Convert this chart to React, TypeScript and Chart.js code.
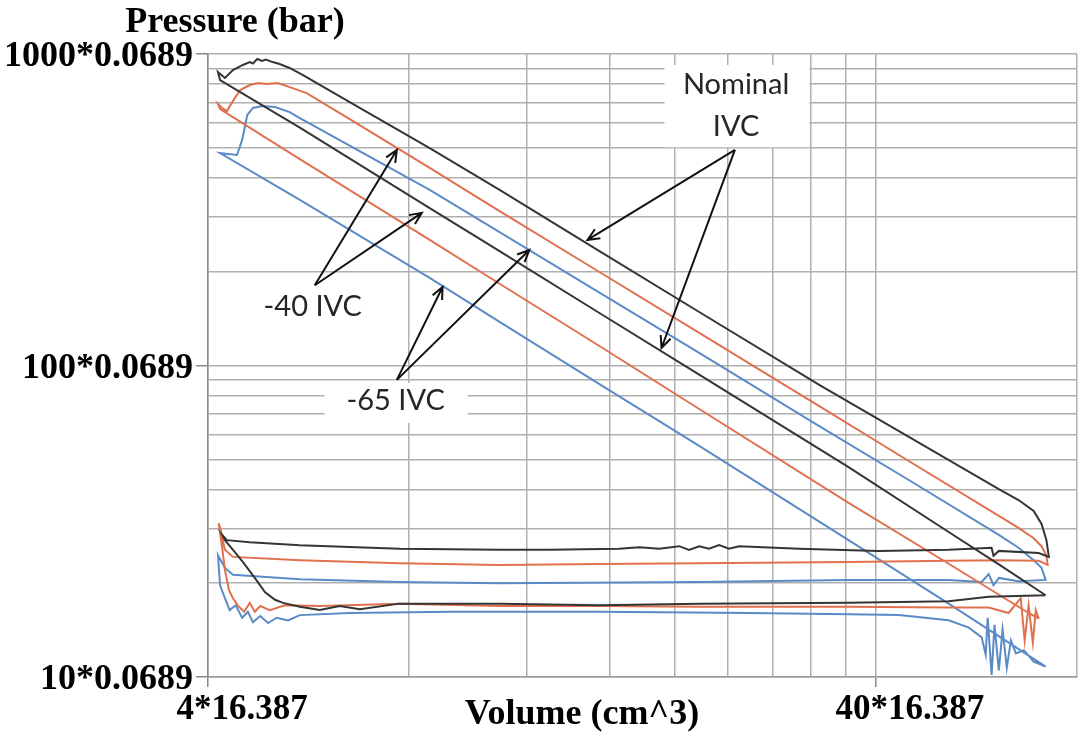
import { useEffect, useRef } from 'react';
import { Chart, registerables } from 'chart.js';

Chart.register(...registerables);

// Axis ticks (volume in in^3, pressure in psi; labels show conversion factors)
const xTickValues = [4, 8, 12, 16, 20, 24, 28, 32, 36, 40, 80];
const yTickValues = [10, 20, 30, 40, 50, 60, 70, 80, 90, 100, 200, 300, 400, 500, 600, 700, 800, 900, 1000];
const xLabelledTicks = [4, 40];
const yLabelledTicks = [10, 100, 1000];
const xFactor = '16.387';
const yFactor = '0.0689';

// Nominal IVC (black)
const nominalVolume = [71.8, 61.1, 51.4, 36.4, 21.75, 15.42, 10.93, 8.59, 5.49, 4.17,
  4.14, 4.24, 4.36, 4.51, 4.62, 4.67, 4.74, 4.82, 4.88, 5.0, 5.12, 5.3, 5.55,
  6.52, 8.59, 10.93, 15.42, 21.75, 32.9, 43.3, 61.1, 65.4, 68.9, 70.8, 72.0, 72.6,
  70.1, 61.1, 60.0, 59.6, 51.4, 40.4, 30.7, 24.96, 24.1, 23.3, 22.5, 21.75, 21.0, 20.3, 18.95, 17.7, 16.5, 12.98, 10.93, 7.74, 5.49, 4.62, 4.27, 4.2,
  4.24, 4.36, 4.51, 4.7, 4.87, 5.04, 5.18, 5.49, 5.88, 6.3, 6.75, 7.74, 10.93, 15.42, 21.75, 36.4, 51.4, 59.0, 71.8];
const nominalPressure = [18.3, 23.0, 29.2, 47.2, 93.5, 147.4, 233, 320, 580, 825,
  875, 838, 888, 922, 942, 932, 964, 950, 960, 942, 929, 902, 856,
  701, 499, 366, 233, 148.5, 86.6, 61.6, 40.1, 37.0, 34.1, 31.0, 27.5, 24.3,
  25.0, 25.4, 24.5, 26.0, 25.6, 25.4, 25.8, 26.3, 25.8, 26.5, 25.8, 26.3, 25.6, 26.3, 25.8, 26.1, 25.8, 25.6, 25.6, 25.8, 26.5, 27.1, 27.5, 28.6,
  27.5, 25.6, 23.4, 20.8, 18.7, 17.7, 17.3, 16.8, 16.4, 16.9, 16.5, 17.2, 17.2, 17.0, 17.2, 17.3, 17.5, 18.1, 18.3];

// -40 IVC (orange)
const ivc40Volume = [70.1, 67.7, 51.4, 36.4, 21.75, 15.42, 10.93, 8.59, 5.49, 4.17,
  4.14, 4.2, 4.27, 4.36, 4.47, 4.62, 4.75, 4.9, 5.09, 5.3, 5.62,
  6.52, 8.59, 10.93, 15.42, 21.75, 32.9, 43.3, 61.1, 65.4, 68.9, 70.8, 72.0, 72.3,
  70.1, 61.1, 51.4, 36.4, 21.75, 15.42, 10.93, 7.74, 5.49, 4.36, 4.24, 4.18, 4.15,
  4.2, 4.24, 4.3, 4.36, 4.44, 4.53, 4.62, 4.7, 4.79, 4.95, 5.21, 5.88, 7.74, 10.93, 15.42, 21.75, 36.4, 51.4, 59.0, 63.2, 65.9, 66.8, 67.7, 68.7, 69.4, 70.1];
const ivc40Pressure = [15.4, 16.05, 23.1, 36.2, 72.5, 115.5, 183, 253, 460, 666,
  691, 671, 656, 707, 766, 795, 807, 801, 807, 783, 749,
  618, 431, 313, 199.6, 127.2, 74.1, 51.6, 32.9, 30.1, 27.9, 26.3, 24.5, 22.9,
  23.6, 23.7, 23.6, 23.4, 23.2, 23.05, 22.9, 23.2, 23.7, 24.3, 25.6, 29.6, 31.2,
  26.0, 22.1, 19.0, 17.9, 16.9, 16.2, 17.3, 16.2, 16.9, 16.4, 17.0, 16.9, 17.2, 16.9, 16.9, 16.8, 16.8, 16.7, 16.7, 16.05, 17.9, 13.1, 17.0, 12.9, 16.4, 15.4];

// -65 IVC (blue)
const ivc65Volume = [71.8, 51.4, 36.4, 21.75, 15.42, 10.93, 8.59, 5.49, 4.17,
  4.42, 4.5, 4.58, 4.67, 4.82, 5.04, 5.3,
  5.49, 8.59, 10.93, 15.42, 21.75, 32.9, 44.8, 61.1, 65.4, 68.9, 70.8, 71.8,
  65.4, 61.1, 60.0, 59.0, 57.6, 51.4, 36.4, 21.75, 10.93, 7.74, 5.49, 4.36, 4.24, 4.14,
  4.17, 4.24, 4.31, 4.4, 4.5, 4.59, 4.67, 4.79, 4.92, 5.07, 5.27, 5.49, 6.52, 9.2, 15.42, 25.8, 36.4, 43.3, 51.4, 55.1, 57.6, 58.4, 58.8, 59.6, 60.2, 61.1, 61.9, 62.8, 63.7, 64.8, 66.6, 68.9, 71.8];
const ivc65Pressure = [10.8, 17.2, 27.5, 55.2, 87.2, 138, 191, 340, 481,
  474, 530, 637, 671, 681, 676, 651,
  623, 366, 268, 171.5, 109.7, 63.9, 42.9, 28.6, 26.0, 23.7, 22.4, 20.5,
  20.3, 20.8, 19.7, 21.4, 20.2, 20.5, 20.5, 20.2, 20.0, 20.2, 20.6, 21.3, 22.4, 24.6,
  19.7, 17.9, 16.4, 17.0, 15.5, 16.2, 15.0, 15.7, 14.9, 15.5, 15.2, 15.8, 16.05, 16.2, 16.2, 16.05, 15.9, 15.8, 15.2, 14.4, 13.4, 11.8, 15.5, 10.15, 14.7, 10.5, 14.2, 10.7, 13.1, 11.9, 12.2, 11.2, 10.8];

const seriesNames = ['Nominal IVC', '-40 IVC', '-65 IVC'];
const seriesColors = ['#353535', '#E0714F', '#5B8BC6'];

const toPoints = (xs: number[], ys: number[]) => xs.map((x, i) => ({ x, y: ys[i] }));

const serifBold = "bold 36px 'Liberation Serif', 'Times New Roman', serif";
const sansFont = "29px Lato, 'Open Sans', sans-serif";

const annotationPlugin = {
  id: 'pvAnnotations',
  afterDatasetsDraw(chart: any) {
    const { ctx } = chart;
    const xs = chart.scales.x;
    const ys = chart.scales.y;
    const px = (v: number) => xs.getPixelForValue(v);
    const py = (v: number) => ys.getPixelForValue(v);

    // white label boxes (hide gridlines)
    const boxes = [
      [19.3, 31.8, 922, 502],
      [5.98, 9.79, 87.9, 65.4],
      [4.75, 7.03, 177, 131.9],
    ];
    ctx.save();
    ctx.fillStyle = '#ffffff';
    boxes.forEach(([x1, x2, y1, y2]) => {
      ctx.fillRect(px(x1), py(y1), px(x2) - px(x1), py(y2) - py(y1));
    });

    // arrows
    const arrows = [
      [24.6, 492, 14.8, 253],
      [24.6, 492, 19.1, 113.8],
      [5.78, 181, 7.67, 492],
      [5.78, 181, 8.36, 309],
      [7.67, 89.9, 8.98, 178.6],
      [7.67, 89.9, 12.11, 234.9],
    ];
    ctx.strokeStyle = '#111111';
    ctx.lineWidth = 2;
    arrows.forEach(([ax, ay, bx, by]) => {
      const x1 = px(ax), y1 = py(ay), x2 = px(bx), y2 = py(by);
      const a = Math.atan2(y2 - y1, x2 - x1);
      const L = 13, w = 0.42;
      ctx.beginPath();
      ctx.moveTo(x1, y1);
      ctx.lineTo(x2, y2);
      ctx.moveTo(x2 - L * Math.cos(a - w), y2 - L * Math.sin(a - w));
      ctx.lineTo(x2, y2);
      ctx.lineTo(x2 - L * Math.cos(a + w), y2 - L * Math.sin(a + w));
      ctx.stroke();
    });

    // texts
    const texts: [string, number, number][] = [
      ['Nominal', 24.7, 795],
      ['IVC', 24.7, 583],
      ['-40 IVC', 5.74, 154],
      ['-65 IVC', 7.64, 76.9],
    ];
    ctx.fillStyle = '#262626';
    ctx.font = sansFont;
    ctx.textAlign = 'center';
    ctx.textBaseline = 'middle';
    texts.forEach(([t, x, y]) => ctx.fillText(t, px(x), py(y)));
    ctx.restore();
  },
  afterDraw(chart: any) {
    const { ctx, chartArea } = chart;
    ctx.save();
    ctx.fillStyle = '#000000';
    ctx.font = serifBold;
    ctx.textAlign = 'center';
    ctx.textBaseline = 'middle';
    ctx.fillText('Pressure (bar)', chartArea.left + 27, chartArea.top - 31);
    ctx.fillText('Volume (cm^3)', chartArea.left + 374, chartArea.bottom + 38);
    ctx.restore();
  },
};

export default function App() {
  const canvasRef = useRef<HTMLCanvasElement | null>(null);

  useEffect(() => {
    const canvas = canvasRef.current;
    if (!canvas) return;
    const xTickFont = { family: "'Liberation Serif', 'Times New Roman', serif", size: 35, weight: 'bold' as const };
    const yTickFont = { family: "'Liberation Serif', 'Times New Roman', serif", size: 36, weight: 'bold' as const };
    const chart = new Chart(canvas, {
      type: 'scatter',
      data: {
        datasets: [
          { label: seriesNames[0], data: toPoints(nominalVolume, nominalPressure), borderColor: seriesColors[0], backgroundColor: seriesColors[0] },
          { label: seriesNames[1], data: toPoints(ivc40Volume, ivc40Pressure), borderColor: seriesColors[1], backgroundColor: seriesColors[1] },
          { label: seriesNames[2], data: toPoints(ivc65Volume, ivc65Pressure), borderColor: seriesColors[2], backgroundColor: seriesColors[2] },
        ].map((d) => ({ ...d, showLine: true, pointRadius: 0, borderWidth: 2, tension: 0 })),
      },
      options: {
        animation: false,
        responsive: false,
        devicePixelRatio: 1,
        layout: { padding: { top: 54, right: 3, left: 0, bottom: 0 } },
        plugins: { legend: { display: false }, tooltip: { enabled: false }, title: { display: false } },
        scales: {
          x: {
            type: 'logarithmic',
            min: 4,
            max: 80,
            afterBuildTicks: (scale: any) => { scale.ticks = xTickValues.map((v) => ({ value: v })); },
            afterFit: (scale: any) => { scale.height = 65; },
            ticks: {
              autoSkip: false,
              maxRotation: 0,
              minRotation: 0,
              labelOffset: 34,
              padding: 2,
              color: '#000',
              font: xTickFont,
              callback: (v: any) => (xLabelledTicks.includes(Number(v)) ? `${v}*${xFactor}` : ''),
            },
            grid: {
              color: '#b0b0b0',
              lineWidth: 1.5,
              tickLength: 10,
              tickWidth: 1.5,
              tickColor: (c: any) => (c.tick && xLabelledTicks.includes(c.tick.value) ? '#8a8a8a' : 'rgba(0,0,0,0)'),
            },
            border: { color: '#999999', width: 1.5 },
          },
          y: {
            type: 'logarithmic',
            min: 10,
            max: 1000,
            afterBuildTicks: (scale: any) => { scale.ticks = yTickValues.map((v) => ({ value: v })); },
            afterFit: (scale: any) => { scale.width = 208; },
            ticks: {
              autoSkip: false,
              padding: 3,
              labelOffset: 3,
              color: '#000',
              font: yTickFont,
              callback: (v: any) => (yLabelledTicks.includes(Number(v)) ? `${v}*${yFactor}` : ''),
            },
            grid: {
              color: '#b0b0b0',
              lineWidth: 1.5,
              tickLength: 12,
              tickWidth: 1.5,
              tickColor: (c: any) => (c.tick && yLabelledTicks.includes(c.tick.value) ? '#8a8a8a' : 'rgba(0,0,0,0)'),
            },
            border: { color: '#8a8a8a', width: 1.5 },
          },
        },
      },
      plugins: [annotationPlugin],
    } as any);
    return () => chart.destroy();
  }, []);

  return (
    <div style={{ position: 'fixed', left: 0, top: 0, width: 1080, height: 742, background: '#fff' }}>
      <canvas ref={canvasRef} width={1080} height={742} style={{ display: 'block', width: 1080, height: 742 }} />
    </div>
  );
}
